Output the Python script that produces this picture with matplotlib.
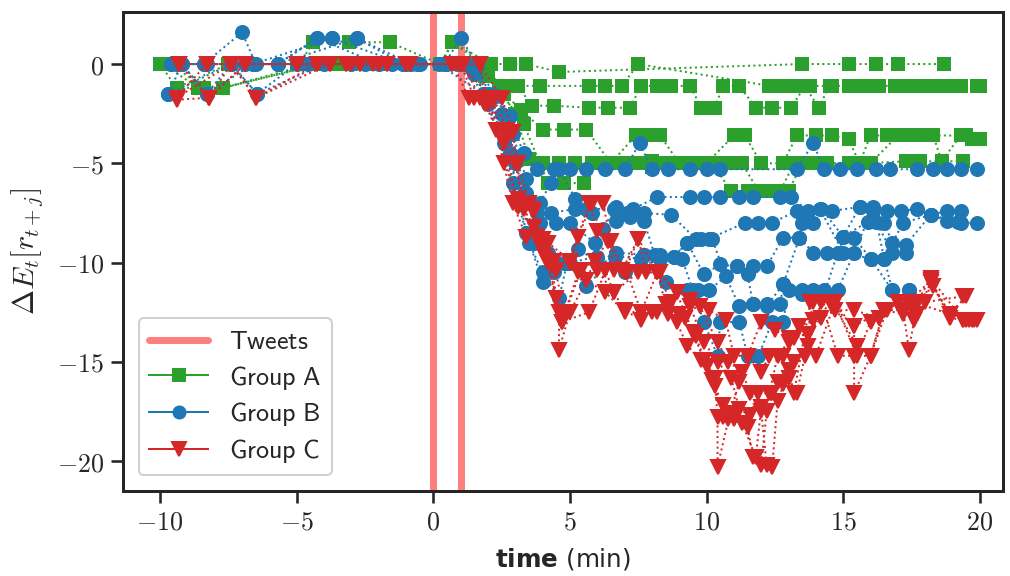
import matplotlib
matplotlib.use('Agg')
import matplotlib.pyplot as plt
from matplotlib.lines import Line2D
from matplotlib.ticker import FuncFormatter, MultipleLocator

plt.rcParams['mathtext.fontset'] = 'cm'

# times (min) of the two tweets
tweet_times = [0.0, 1.0]

# Group A trajectories (green squares)
group_a_times = [
    [-9.9, -7.5, -4.9, -4.4, -3.1, -1.6, 0.25, 0.7, 2.1, 2.8, 3.4, 4.6, 13.5, 15.2, 16.2, 17.0, 18.7],
    [-9.4, -8.5, -7.7, -4.1, -2.2, -0.85, 0.5, 1.5, 2.4, 3.0, 3.9, 5.7, 6.3, 6.9, 7.5, 12.3, 12.6, 13.1,
     13.8, 14.6, 15.2, 15.7, 16.3, 16.9, 17.5, 18.1, 18.7, 19.3, 19.9],
    [-10.0, -9.4, -7.5, -4.9, -3.6, -1.7, 0.4, 1.2, 2.0, 2.6, 3.1, 3.6, 4.4, 5.7, 6.4, 7.2, 7.6, 8.2, 8.7,
     9.4, 9.8, 10.3, 10.6, 11.2, 11.8, 12.4, 13.1, 13.6, 14.1, 14.5, 15.4, 16.1, 17.1, 17.8, 18.5, 19.2, 20.0],
    [-9.9, -8.6, -7.7, -4.5, -3.0, -2.0, 0.6, 1.4, 2.0, 2.6, 3.2, 4.0, 4.8, 5.6, 6.5, 7.4, 7.9, 8.3, 9.0,
     10.0, 11.0, 11.4, 12.0, 12.8, 13.3, 14.0, 14.6, 15.2, 15.6, 16.0, 16.6, 17.2, 17.6, 18.3, 18.6, 19.3,
     19.7, 20.0],
    [-9.9, -7.5, -5.0, -3.4, -1.8, 0.3, 0.7, 1.8, 2.4, 3.0, 3.5, 4.0, 4.6, 5.2, 5.8, 6.3, 6.9, 7.5, 8.0,
     8.5, 9.2, 9.8, 10.3, 10.8, 11.3, 11.9, 12.4, 13.0, 13.5, 14.1, 15.2, 15.8, 17.3, 17.8, 19.4],
    [-9.6, -8.4, -7.7, -4.2, -2.4, -0.9, 0.6, 1.9, 2.5, 3.3, 4.2, 4.8, 5.5, 6.0, 6.6, 7.2, 8.0, 8.8, 9.6,
     10.2, 10.9, 11.5, 12.1, 12.7, 13.2, 13.9, 14.4, 15.4, 16.0, 17.0, 17.5, 18.1, 19.5],
]
group_a_values = [
    [0, 0, 0, 1.1, 1.1, 1.1, 0, 1.1, 0, 0, 0, -0.4, 0, 0, 0, 0, 0],
    [-1.2, -1.2, -1.2, 0, 0, 0, 0, 0, -1.1, -1.1, -1.1, -1.1, -1.1, -1.1, 0, -1.1, -1.1, -1.1,
     -1.1, -1.1, -1.1, -1.1, -1.1, -1.1, -1.1, -1.1, -1.1, -1.1, -1.1],
    [0, -1.2, 0, 0, 0, 0, 0, 0, -0.5, -1.1, -1.1, -2.1, -2.1, -2.2, -2.2, -2.2, -1.1, -1.1, -1.1,
     -1.1, -2.2, -2.2, -1.1, -1.1, -2.2, -2.2, -2.2, -1.1, -2.2, -1.1, -1.1, -1.1, -1.1, -1.1, -1.1, -1.1, -1.1],
    [0, -1.2, -1.2, 0, 0, 0, 0, 0, -0.3, -1.5, -2.3, -3.3, -3.3, -3.3, -5.0, -3.6, -3.6, -3.6, -5.0,
     -5.0, -3.6, -3.6, -5.0, -5.0, -3.6, -3.6, -3.6, -3.8, -5.0, -3.6, -3.6, -3.6, -3.6, -3.6, -4.9, -3.6,
     -3.8, -3.8],
    [0, 0, 0, 0, 0, 0, 1.1, 0, -1.2, -2.5, -4.8, -5.0, -5.0, -5.0, -5.0, -5.0, -5.0, -5.0, -4.9,
     -5.0, -5.0, -5.0, -5.0, -5.0, -5.0, -6.4, -6.4, -6.4, -5.0, -5.0, -5.0, -5.0, -4.9, -4.9, -4.9],
    [0, -1.2, -1.2, 0, 0, 0, 0, -0.6, -1.5, -3.0, -6.0, -6.0, -6.0, -5.0, -5.0, -5.0, -5.2, -5.0, -5.0,
     -5.0, -6.4, -6.4, -6.4, -6.4, -5.0, -5.0, -5.0, -5.0, -5.0, -3.6, -3.6, -3.6, -3.6],
]

# Group B trajectories (blue circles)
group_b_times = [
    [-9.6, -8.4, -7.0, -6.5, -5.7, -4.25, -3.7, -2.8, -1.1, 0.4, 1.0, 1.6, 2.2, 2.8, 3.3, 3.8, 4.4, 5.0,
     5.6, 6.3, 7.0, 7.55, 8.0, 8.6, 9.4, 10.0, 10.5, 13.3, 13.9, 14.3, 14.9, 15.5, 16.2, 16.7, 17.7, 18.3,
     18.8, 19.3, 19.9],
    [-9.7, -9.2, -8.3, -7.4, -6.45, -5.0, -3.0, -1.0, 0.5, 1.5, 2.3, 2.9, 3.4, 3.8, 4.3, 5.2, 5.6, 6.6,
     7.3, 8.2, 9.4, 9.9, 10.5, 11.2, 11.7, 12.7, 13.1, 13.7, 14.6, 15.6, 16.1, 16.6, 17.1, 17.7, 18.2,
     18.8, 19.3],
    [-9.4, -8.4, -6.6, -5.7, -4.25, -2.0, -0.5, 1.0, 2.0, 2.7, 3.3, 3.9, 4.5, 5.0, 5.9, 6.7, 7.2, 7.7,
     8.7, 9.6, 10.1, 11.4, 11.9, 12.4, 13.3, 13.9, 14.2, 15.0, 15.6, 16.5, 16.8, 17.2, 18.2, 18.8, 19.3, 19.9],
    [-9.6, -7.4, -6.45, -4.0, -1.5, 0.2, 1.8, 2.6, 3.2, 3.7, 4.2, 4.8, 5.3, 6.0, 6.7, 7.7, 8.3, 8.8,
     9.3, 9.9, 10.5, 11.1, 11.7, 12.2, 12.8, 13.4, 13.9, 14.4, 15.4, 16.0, 16.5, 17.3],
    [-9.2, -8.3, -6.6, -3.7, -1.1, 0.9, 1.9, 2.8, 3.4, 4.0, 4.4, 5.0, 6.0, 7.0, 7.7, 8.5, 9.3, 9.7,
     10.1, 11.1, 11.5, 11.7, 12.2, 12.7, 12.8, 13.5, 13.9, 14.3, 14.8, 15.4, 16.1, 16.5, 16.8, 17.4],
    [-9.7, -7.4, -5.7, -2.8, -0.8, 1.6, 2.0, 2.9, 3.5, 4.0, 4.6, 4.9, 5.6, 6.65, 7.6, 8.3, 9.1, 9.5,
     9.9, 10.4, 10.5, 11.2, 11.5, 11.9, 12.4, 12.8, 13.0, 13.5, 14.3, 14.8, 15.0, 15.9, 16.2, 16.8, 17.3,
     18.2, 19.2],
    [-9.4, -8.3, -6.9, -4.6, -2.5, -0.6, 1.2, 2.5, 3.0, 3.4, 3.9, 4.3, 4.6, 5.2, 5.8, 6.2, 6.7, 7.1,
     7.7, 8.1, 8.8, 9.3, 9.8, 10.2, 10.7, 11.2, 11.7, 12.2, 12.8, 13.4, 13.5, 14.15, 15.0, 16.0, 16.8, 17.4],
]
group_b_values = [
    [0, 0, 1.6, 0, 0, 1.3, 1.3, 1.3, 0, 0, 1.3, 0, -1.5, -2.6, -4.5, -5.3, -5.3, -5.3,
     -5.3, -5.3, -5.3, -4.0, -5.3, -5.3, -5.3, -5.3, -5.3, -5.3, -4.0, -5.3, -5.3, -5.3, -5.3, -5.3, -5.3,
     -5.3, -5.3, -5.3, -5.3],
    [-1.5, 0, -1.5, 0, -1.5, 0, 0, 0, 0, -0.5, -1.6, -3.5, -5.8, -7.5, -7.5, -7.3, -7.3, -7.3,
     -7.3, -6.7, -6.7, -6.7, -6.7, -6.7, -6.7, -6.7, -6.7, -7.4, -7.4, -7.2, -7.4, -7.4, -7.4, -7.3, -7.6,
     -7.4, -7.4],
    [0, 0, 0, 0, 1.3, 0, 0, 0, -1.5, -3.6, -6.5, -8.0, -8.0, -8.0, -9.0, -7.9, -7.7, -7.5,
     -7.6, -8.8, -8.8, -8.0, -8.0, -8.0, -7.4, -8.0, -7.3, -8.7, -7.2, -8.0, -9.0, -8.0, -7.6, -7.9, -8.0, -8.0],
    [0, 0, -1.5, 0, 0, 0, -1.5, -4.0, -6.8, -9.0, -9.5, -10.0, -9.3, -10.0, -9.5, -9.6, -9.6, -9.7,
     -9.0, -10.6, -10.1, -10.2, -10.2, -10.2, -8.75, -8.75, -9.5, -9.5, -8.75, -9.8, -9.8, -9.5],
    [0, -1.5, 0, 1.3, 0, 0, -1.5, -4.5, -8.5, -11.0, -10.5, -10.0, -9.7, -10.5, -9.6, -11.0, -11.4, -11.4,
     -11.4, -10.2, -10.6, -12.1, -12.1, -12.1, -11.1, -11.4, -11.4, -11.4, -11.4, -9.5, -7.2, -9.8, -11.4, -11.4],
    [-1.5, 0, 0, 1.3, 0, 0, -2.0, -6.0, -9.0, -10.5, -11.8, -10.0, -11.2, -9.7, -9.8, -9.8, -9.8, -11.4,
     -13.0, -14.7, -13.0, -13.0, -14.7, -14.7, -13.0, -13.0, -11.4, -11.6, -11.6, -9.5, -8.7, -7.95, -7.95,
     -9.5, -9.1, -7.6, -7.95],
    [0, 0, 0, 0, 0, 0, 0, -2.5, -5.0, -6.5, -7.0, -6.0, -5.3, -6.8, -7.5, -8.3, -7.2, -7.5,
     -7.9, -9.6, -9.7, -9.0, -8.8, -8.8, -10.7, -12.2, -12.1, -12.2, -11.1, -8.75, -8.0, -7.3, -9.5, -9.8,
     -11.4, -11.4],
]

# Group C trajectories (red triangles)
group_c_times = [
    [-9.3, -8.2, -6.9, -5.0, -3.8, -2.7, -0.85, 0.7, 1.3, 1.9, 2.3, 2.9, 3.4, 3.9, 4.3, 4.6, 4.6, 5.0,
     5.6, 6.3, 7.0, 7.6, 8.2, 8.5, 9.0, 9.75, 10.4, 10.8, 11.3, 11.6, 12.0, 12.2, 12.4, 12.6, 13.0, 13.2,
     13.8, 14.6, 15.5, 16.0, 16.5, 17.0, 17.4, 18.2, 18.9, 19.4, 19.7, 19.9],
    [-9.4, -8.3, -7.4, -6.5, -4.25, -3.2, -1.7, 1.0, 1.5, 2.2, 2.6, 3.1, 3.6, 4.0, 4.5, 5.0, 5.3, 5.8,
     6.2, 6.5, 7.0, 7.5, 7.8, 8.3, 8.9, 9.5, 9.9, 10.3, 10.4, 10.4, 10.8, 11.2, 11.5, 12.0, 12.3, 12.8,
     13.2, 13.7, 13.9, 14.6, 15.4, 15.4, 16.0, 16.5, 17.2, 17.4, 17.6, 18.0, 19.4],
    [-9.4, -8.2, -7.4, -5.0, -3.0, -2.2, 0.7, 1.7, 2.0, 2.6, 3.1, 3.8, 4.2, 4.7, 5.4, 5.9, 6.4, 6.6,
     7.1, 7.6, 8.2, 8.5, 8.9, 9.3, 9.8, 10.2, 10.6, 11.0, 11.5, 11.7, 12.0, 12.2, 12.6, 13.0, 13.2, 13.7,
     14.0, 14.7, 15.5, 16.0, 17.0, 17.7, 18.2, 18.9, 19.6],
    [-9.3, -8.3, -6.9, -4.25, -2.7, -1.0, 1.1, 1.7, 2.0, 2.5, 3.0, 3.3, 3.7, 4.2, 5.0, 5.7, 6.0, 6.4,
     6.9, 7.5, 8.2, 8.9, 9.4, 10.1, 10.7, 11.0, 11.5, 12.0, 12.5, 13.0, 13.7, 14.2, 14.7, 15.4, 16.3,
     17.0, 17.5, 18.3, 18.9, 19.5],
    [-9.4, -7.4, -6.5, -3.8, -2.0, -0.85, 0.9, 2.2, 2.7, 3.1, 3.5, 4.0, 4.4, 4.8, 5.3, 6.0, 6.6, 7.0,
     7.6, 8.0, 8.6, 9.4, 9.9, 10.4, 10.9, 11.2, 11.6, 11.9, 12.3, 12.6, 13.0, 13.4, 13.9, 14.6, 15.4,
     16.5, 17.2, 17.6, 18.9, 19.5],
    [-9.3, -8.2, -6.9, -5.0, -3.2, -1.7, 0.7, 1.7, 2.5, 2.9, 3.3, 3.7, 4.1, 4.5, 4.7, 5.7, 6.3, 6.6,
     7.5, 8.2, 8.7, 9.2, 9.6, 10.0, 10.3, 10.6, 10.9, 11.3, 11.8, 12.0, 12.4, 12.8, 13.3, 13.6, 14.2,
     14.8, 15.4, 16.0, 16.6, 17.4, 17.7, 18.2, 19.4, 19.8],
]
group_c_values = [
    [0, -1.7, 0, 0, 0, 0, 0, 0, -1.7, -2.0, -3.3, -7.0, -8.7, -9.1, -10.0, -12.5, -14.4, -12.5,
     -10.9, -11.5, -12.5, -12.5, -12.5, -12.1, -12.6, -12.2, -14.0, -15.0, -15.5, -16.6, -17.5, -20.2,
     -20.3, -17.0, -15.4, -16.6, -12.0, -12.0, -14.2, -14.7, -12.4, -12.0, -12.0, -10.9, -12.6, -12.9,
     -12.9, -12.9],
    [-1.7, 0, 0, -1.7, 0, 0, 0, 0, -1.7, -1.8, -5.0, -6.8, -7.3, -9.2, -10.4, -10.0, -8.7, -7.0,
     -7.0, -8.9, -10.5, -8.8, -10.5, -10.5, -11.5, -13.5, -14.9, -15.8, -17.8, -20.3, -17.9, -16.0, -14.7,
     -15.5, -14.7, -14.7, -13.8, -13.6, -12.0, -12.2, -13.2, -16.6, -14.7, -12.4, -12.4, -14.4, -12.9,
     -12.0, -11.7],
    [-1.8, -1.7, 0, 0, 0, 0, 0, 0, -2.0, -4.0, -7.2, -8.7, -10.0, -13.0, -10.4, -9.9, -8.9, -10.4,
     -10.5, -12.5, -10.5, -12.1, -13.0, -14.2, -14.9, -15.9, -17.2, -17.9, -18.3, -19.8, -20.2, -17.5,
     -16.0, -15.8, -15.0, -14.2, -14.7, -12.0, -14.7, -13.0, -12.0, -12.6, -11.0, -12.6, -12.9],
    [0, 0, 0, 0, 0, 0, 0, -1.7, -1.7, -3.3, -5.0, -7.0, -7.4, -9.0, -9.9, -7.0, -8.4, -8.9,
     -10.4, -8.8, -10.5, -11.5, -11.9, -12.4, -12.9, -14.7, -14.7, -13.0, -13.4, -13.8, -13.6, -12.8,
     -12.4, -12.4, -12.8, -12.0, -12.2, -11.2, -12.8, -12.9],
    [-1.7, 0, -1.7, 0, 0, 0, 0, -1.7, -3.3, -5.0, -7.0, -8.8, -9.9, -12.6, -10.5, -10.4, -11.5, -12.4,
     -12.9, -12.5, -12.6, -12.2, -14.0, -15.0, -15.8, -17.4, -17.7, -16.6, -16.6, -14.7, -14.0, -13.2,
     -12.9, -12.0, -13.2, -12.4, -12.6, -12.0, -12.6, -11.7],
    [0, -1.7, 0, 0, 0, 0, 0, 0, -1.7, -3.4, -7.3, -8.2, -9.7, -11.8, -13.0, -12.5, -10.4, -11.5,
     -10.5, -10.5, -12.0, -12.8, -13.7, -15.2, -16.2, -17.8, -17.6, -18.1, -19.8, -17.3, -16.6, -16.1,
     -16.6, -14.7, -12.0, -14.7, -14.7, -14.7, -12.4, -12.0, -12.0, -10.8, -12.9, -12.9],
]

group_labels = ['Group A', 'Group B', 'Group C']
group_colors = ['tab:green', 'tab:blue', 'tab:red']
group_markers = ['s', 'o', 'v']
group_sizes = [6.0, 6.5, 7.0]

dark = '#262626'

fig, ax = plt.subplots(figsize=(7.0, 3.992), dpi=144.3)
fig.subplots_adjust(left=0.122, right=0.993, bottom=0.148, top=0.979)

for t in tweet_times:
    ax.axvline(t, color='red', alpha=0.5, lw=3.5, zorder=1)

all_times = [group_a_times, group_b_times, group_c_times]
all_values = [group_a_values, group_b_values, group_c_values]
for k in range(3):
    for times, values in zip(all_times[k], all_values[k]):
        ax.plot(times, values, ls=':', lw=1.0, marker=group_markers[k], ms=group_sizes[k],
                color=group_colors[k], zorder=2 + k)

ax.set_xlim(-11.35, 20.85)
ax.set_ylim(-21.5, 2.62)
ax.xaxis.set_major_locator(MultipleLocator(5))
ax.yaxis.set_major_locator(MultipleLocator(5))
fmt = FuncFormatter(lambda v, p: r'$%d$' % int(round(v)))
ax.xaxis.set_major_formatter(fmt)
ax.yaxis.set_major_formatter(fmt)
ax.tick_params(direction='out', length=6, width=1.3, labelsize=13, colors=dark,
               top=False, right=False)
for s in ax.spines.values():
    s.set_linewidth(1.5)
    s.set_color(dark)

ax.set_xlabel(r'$\mathbf{time}$ (min)', fontsize=12.3, color=dark,
              math_fontfamily='dejavusans', labelpad=5)
ax.set_ylabel(r'$\Delta E_t[r_{t+j}]$', fontsize=15, color=dark, labelpad=6)

# legend: thick line for the tweets, thin line + marker per group
handles = [Line2D([], [], color='red', alpha=0.5, lw=3.5, solid_capstyle='round')]
for k in range(3):
    handles.append(Line2D([], [], color=group_colors[k], lw=1.0, marker=group_markers[k],
                          ms=group_sizes[k] - 0.5))
labels = [r'$\mathsf{Tweets}$'] + [r'$\mathsf{%s}$' % g.replace(' ', r'\ ') for g in group_labels]
leg = ax.legend(handles, labels, loc='lower left', fontsize=13, frameon=True, fancybox=True,
                edgecolor='#d0d0d0', framealpha=1.0, borderaxespad=0.6, labelspacing=0.33,
                handlelength=2.25, handletextpad=0.8, borderpad=0.4)
leg.get_frame().set_linewidth(1.0)
for txt in leg.get_texts():
    txt.set_color(dark)

fig.savefig('out.png', dpi=144.3)
